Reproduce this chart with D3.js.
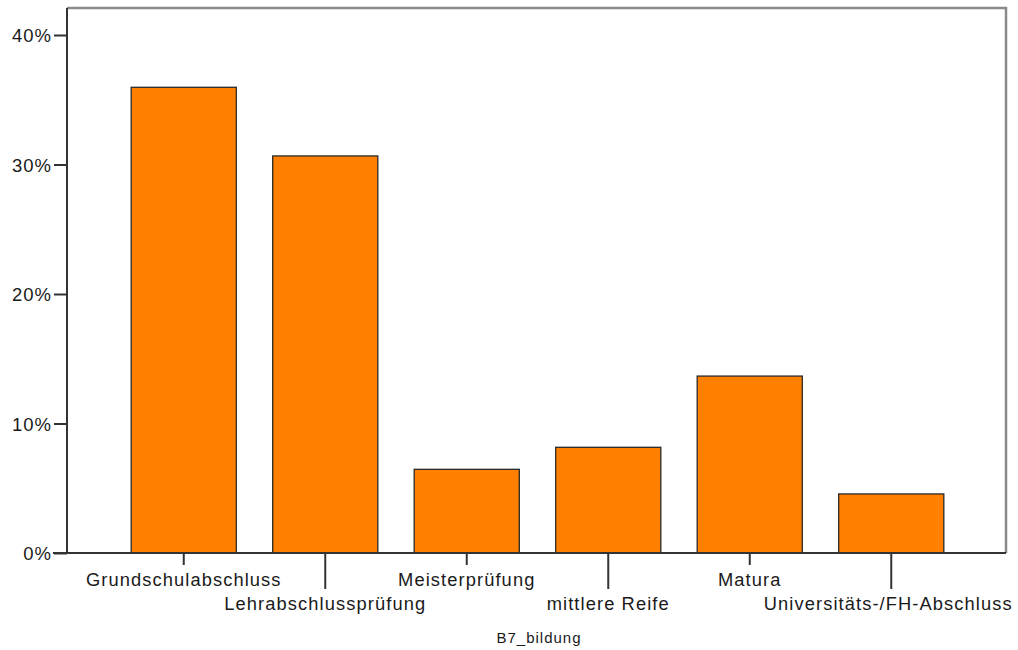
<!DOCTYPE html>
<html>
<head>
<meta charset="utf-8">
<script src="https://cdn.jsdelivr.net/npm/d3@7"></script>
<style>
  html, body { margin: 0; padding: 0; background: #fff; }
  svg { display: block; }
  text { font-family: "Liberation Sans", Arial, sans-serif; fill: #1a1a1a; }
</style>
</head>
<body>
<svg id="chart" width="1018" height="650"></svg>
<script>
const categories = ["Grundschulabschluss", "Lehrabschlussprüfung", "Meisterprüfung", "mittlere Reife", "Matura", "Universitäts-/FH-Abschluss"];
const percentValues = [36.0, 30.7, 6.5, 8.2, 13.7, 4.6];
const yTickValues = [0, 10, 20, 30, 40];
const xAxisTitle = "B7_bildung";

const svg = d3.select("#chart");
const frame = { left: 67, right: 1006, top: 8, bottom: 553 };

const x = d3.scaleBand()
  .domain(categories)
  .range([113, 962])
  .paddingInner(0.25)
  .paddingOuter(0.125);

const y = d3.scaleLinear()
  .domain([0, 40])
  .range([553, 35]);

// frame top/right (grey)
svg.append("path")
  .attr("d", `M${frame.left},${frame.top}H${frame.right}V${frame.bottom}`)
  .attr("fill", "none")
  .attr("stroke", "#8a8a8a")
  .attr("stroke-width", 2.5);

// bars
svg.append("g").selectAll("rect")
  .data(categories.map((c, i) => ({ c, v: percentValues[i] })))
  .join("rect")
  .attr("x", d => x(d.c) + 0.5)
  .attr("y", d => y(d.v) + 0.5)
  .attr("width", x.bandwidth() - 1)
  .attr("height", d => y(0) - y(d.v) - 0.5)
  .attr("fill", "#ff8000")
  .attr("stroke", "#2a2a2a")
  .attr("stroke-width", 1.3);

// y axis
const yAxis = d3.axisLeft(y)
  .tickValues(yTickValues)
  .tickFormat(d => d + "%")
  .tickSize(13)
  .tickSizeOuter(0)
  .tickPadding(2);
const gy = svg.append("g").attr("transform", `translate(${frame.left},0)`).call(yAxis);
gy.select(".domain").attr("d", `M0,${frame.top}V${frame.bottom + 1}`).attr("stroke", "#333").attr("stroke-width", 2);
gy.selectAll(".tick line").attr("stroke", "#333").attr("stroke-width", 2);
gy.selectAll(".tick text")
  .attr("font-size", 18.5)
  .attr("letter-spacing", "1px")
  .attr("font-family", "Liberation Sans, Arial, sans-serif")
  .attr("fill", "#1a1a1a")
  .attr("dy", "0.36em");

// x axis
const xAxis = d3.axisBottom(x).tickSize(0).tickSizeOuter(0);
const gx = svg.append("g").attr("transform", `translate(0,${frame.bottom})`).call(xAxis);
gx.select(".domain").attr("d", `M${frame.left - 14},0H${frame.right}`).attr("stroke", "#333").attr("stroke-width", 2);
gx.selectAll(".tick line")
  .attr("y2", (d, i) => i % 2 === 0 ? 12 : 36)
  .attr("stroke", "#333")
  .attr("stroke-width", 2);
gx.selectAll(".tick text")
  .attr("font-size", 18.3)
  .attr("letter-spacing", "1.1px")
  .attr("font-family", "Liberation Sans, Arial, sans-serif")
  .attr("fill", "#1a1a1a")
  .attr("dy", null)
  .attr("y", (d, i) => i % 2 === 0 ? 33 : 57)
  .attr("x", (d, i) => i === categories.length - 1 ? -3 : 0);

// x title
svg.append("text")
  .attr("x", 539)
  .attr("y", 643)
  .attr("text-anchor", "middle")
  .attr("font-size", 15)
  .attr("letter-spacing", "1px")
  .attr("fill", "#1a1a1a")
  .text(xAxisTitle);
</script>
</body>
</html>
